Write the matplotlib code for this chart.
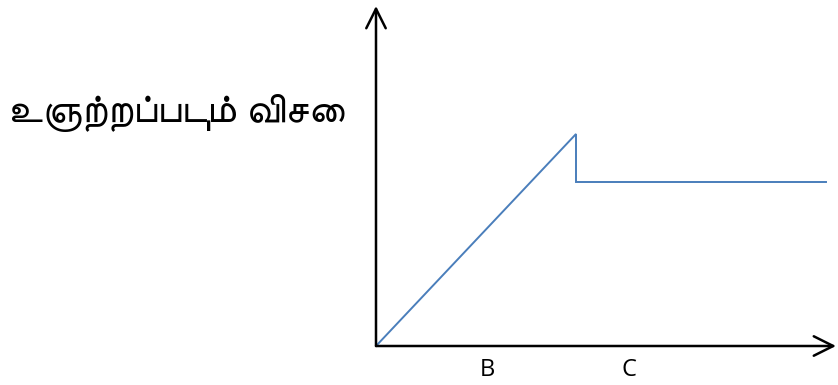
import matplotlib
matplotlib.use('Agg')
import matplotlib.pyplot as plt

# force vs. time sketch: rises to a peak, drops, then stays flat
time_pts  = [0, 4.0, 4.0, 9.0]
force_pts = [0, 4.24, 3.28, 3.28]

xtick_pos    = [2.22, 5.06]
xtick_labels = ['B', 'C']

y_label = 'உஞற்றப்படும் விசை'

W, H = 838, 385
fig = plt.figure(figsize=(W / 100, H / 100), dpi=100)
ax = fig.add_axes([376 / W, 39 / H, 460 / W, 340 / H])

ax.plot(time_pts, force_pts, color='#4a7ebb', lw=1.4, solid_joinstyle='miter')
ax.set_xlim(0, 9.2)
ax.set_ylim(0, 6.8)

for s in ax.spines.values():
    s.set_visible(False)
ax.set_yticks([])
ax.set_xticks(xtick_pos)
ax.set_xticklabels(xtick_labels, family=['Open Sans', 'DejaVu Sans'], fontsize=17)
ax.tick_params(axis='x', length=0, pad=9)

# axes with open arrow heads
arrow = dict(arrowstyle='->,head_length=0.7,head_width=0.35', lw=1.8,
             color='black', mutation_scale=20, shrinkA=0, shrinkB=0)
ax.annotate('', xy=(0, 1), xytext=(0, 0), xycoords='axes fraction',
            textcoords='axes fraction', arrowprops=arrow, annotation_clip=False)
ax.annotate('', xy=(1, 0), xytext=(0, 0), xycoords='axes fraction',
            textcoords='axes fraction', arrowprops=arrow, annotation_clip=False)

fig.text(8 / W, 1 - 112 / H, y_label, family=['FreeSans', 'DejaVu Sans'],
         fontsize=29, ha='left', va='center')

fig.savefig('out.png', dpi=100)
plt.close(fig)
